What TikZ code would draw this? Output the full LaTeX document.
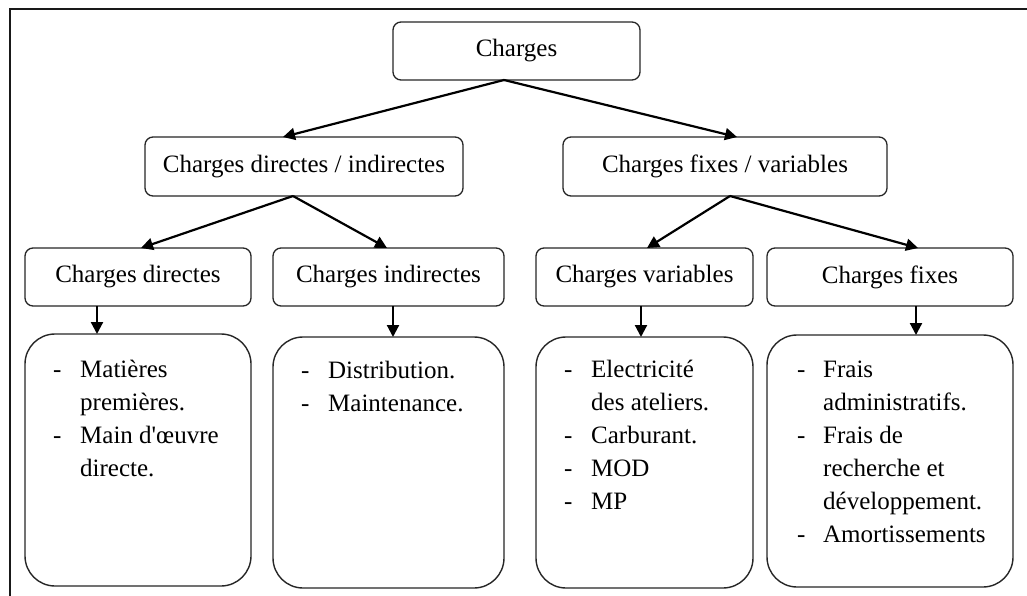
\documentclass[tikz,border=0pt]{standalone}
\usepackage{fontspec}
\setmainfont{Liberation Serif}
\usetikzlibrary{arrows.meta}
\tikzset{
  txt/.style={font=\fontsize{25}{33}\selectfont},
  box/.style={txt, draw=black!85, line width=1.3pt, fill=white, rounded corners=8pt, inner sep=0pt, outer sep=0pt},
  listbox/.style={draw=black!85, line width=1.4pt, fill=white, rounded corners=30pt, inner sep=0pt, outer sep=0pt, anchor=north west},
  listtext/.style={txt, anchor=base west, inner sep=0pt},
  arr/.style={line width=2.2pt, -{Triangle[length=12pt,width=12pt]}},
  frame/.style={line width=2pt, draw=black!90}
}
\begin{document}
\begin{tikzpicture}[x=1pt, y=-1pt]
\useasboundingbox (0,0) rectangle (1027,596);
\draw[frame] (9.5,610) -- (9.5,9.5) -- (1040,9.5);

% top level
\node[box, minimum width=247pt, minimum height=58pt] (top) at (516.5,51) {Charges};
% second level
\node[box, minimum width=318pt, minimum height=59pt] (di) at (304,166.5) {Charges directes / indirectes};
\node[box, minimum width=324pt, minimum height=59pt] (fv) at (725,166.5) {Charges fixes / variables};
% third level
\node[box, minimum width=226pt, minimum height=58pt] (cd) at (138,277) {Charges directes};
\node[box, minimum width=231pt, minimum height=58pt] (ci) at (388.5,277) {Charges indirectes};
\node[box, minimum width=217pt, minimum height=58pt] (cv) at (644.5,277) {Charges variables};
\node[box, minimum width=246pt, minimum height=58pt] (cf) at (890,277) {Charges fixes};
% list boxes
\node[listbox, minimum width=226pt, minimum height=252pt] (ld) at (25,334) {};
\node[listbox, minimum width=231pt, minimum height=251pt] (li) at (273,337) {};
\node[listbox, minimum width=217pt, minimum height=251pt] (lv) at (536,337) {};
\node[listbox, minimum width=246pt, minimum height=252pt] (lf) at (767,335) {};

\node[listtext] (ldt) at (53,377) {\begin{tabular}[t]{@{}p{27pt}@{}l@{}}-&Matières\\&premières.\\-&Main d\textquotesingle œuvre\\&directe.\end{tabular}};
\node[listtext] (lit) at (301,378) {\begin{tabular}[t]{@{}p{27pt}@{}l@{}}-&Distribution.\\-&Maintenance.\end{tabular}};
\node[listtext] (lvt) at (564,377) {\begin{tabular}[t]{@{}p{27pt}@{}l@{}}-&Electricité\\&des ateliers.\\-&Carburant.\\-&MOD\\-&MP\end{tabular}};
\node[listtext] (lft) at (797,377) {\begin{tabular}[t]{@{}p{26pt}@{}l@{}}-&Frais\\&administratifs.\\-&Frais de\\&recherche et\\&développement.\\-&Amortissements\end{tabular}};

% connectors
\draw[arr] ([xshift=-12.5pt]top.south) -- ([xshift=-21pt]di.north);
\draw[arr] ([xshift=-12.5pt]top.south) -- ([xshift=12pt]fv.north);
\draw[arr] ([xshift=-11pt]di.south) -- ([xshift=3pt]cd.north);
\draw[arr] ([xshift=-11pt]di.south) -- ([xshift=-1.5pt]ci.north);
\draw[arr] ([xshift=5pt]fv.south) -- ([xshift=2.5pt]cv.north);
\draw[arr] ([xshift=5pt]fv.south) -- ([xshift=28pt]cf.north);
\draw[arr] ([xshift=-41pt]cd.south) -- ([xshift=-41pt]ld.north);
\draw[arr] ([xshift=4.5pt]ci.south) -- ([xshift=4.5pt]li.north);
\draw[arr] ([xshift=-3.5pt]cv.south) -- ([xshift=-3.5pt]lv.north);
\draw[arr] ([xshift=26pt]cf.south) -- ([xshift=26pt]lf.north);
\end{tikzpicture}
\end{document}
